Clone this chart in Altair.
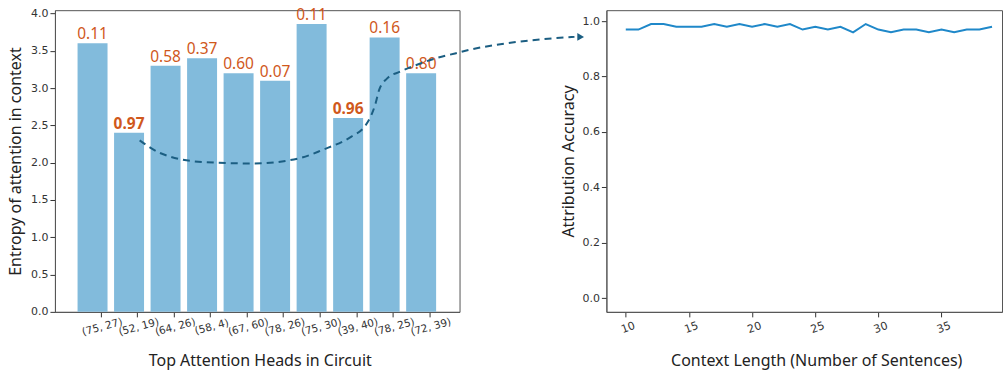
import json
import altair as alt
import pandas as pd

# ---------------- data ----------------
heads = ["(75, 27)", "(52, 19)", "(64, 26)", "(58, 4)", "(67, 60)",
         "(78, 26)", "(75, 30)", "(39, 40)", "(78, 25)", "(72, 39)"]
entropy = [3.60, 2.40, 3.30, 3.40, 3.20, 3.10, 3.86, 2.60, 3.68, 3.20]
head_scores = ["0.11", "0.97", "0.58", "0.37", "0.60",
               "0.07", "0.11", "0.96", "0.16", "0.80"]
highlighted = ["(52, 19)", "(39, 40)"]

context_len = list(range(10, 40))
accuracy = [0.97, 0.97, 0.99, 0.99, 0.98, 0.98, 0.98, 0.99, 0.98, 0.99,
            0.98, 0.99, 0.98, 0.99, 0.97, 0.98, 0.97, 0.98, 0.96, 0.99,
            0.97, 0.96, 0.97, 0.97, 0.96, 0.97, 0.96, 0.97, 0.97, 0.98]

# annotation curve (in left-panel data units: bar index, entropy)
arrow_x = [1.29, 1.85, 3.0, 4.41, 5.67, 6.29, 7.09, 7.445, 7.62, 7.755, 7.845,
           8.07, 8.42, 8.87, 9.4, 9.93, 10.38, 11.0, 12.33, 13.2]
arrow_y = [2.30, 2.13, 2.01, 1.99, 2.06, 2.17, 2.35, 2.48, 2.62, 2.80, 2.97,
           3.13, 3.22, 3.31, 3.40, 3.465, 3.52, 3.576, 3.656, 3.687]
arrow_tip = [13.37, 3.687]

TICK_SHIFT = 0.22

bars = pd.DataFrame({
    "i": list(range(len(heads))),
    "head": heads,
    "entropy": entropy,
    "score": head_scores,
    "bold": [h in highlighted for h in heads],
})
curve = pd.DataFrame({"i": arrow_x, "entropy": arrow_y, "o": list(range(len(arrow_x)))})
tip = pd.DataFrame({"i": [arrow_tip[0]], "entropy": [arrow_tip[1]]})
acc = pd.DataFrame({"n": context_len, "acc": accuracy})

AX_FONT = "DejaVu Sans"
TITLE_FONT = "Noto Sans"

xscale_l = alt.Scale(domain=[-0.893, 9.915], nice=False, zero=False)
yscale_l = alt.Scale(domain=[0, 4.045], nice=False)

label_expr = "%s[round(datum.value - %s)]" % (json.dumps(heads), TICK_SHIFT)

x_axis_l = alt.Axis(
    values=[k + TICK_SHIFT for k in range(len(heads))],
    labelExpr=label_expr, labelAngle=345, labelAlign="center", labelBaseline="top",
    labelPadding=5, labelFontSize=10.5, labelOverlap=False,
    title="Top Attention Heads in Circuit", titleX=205, titleY=54,
    titleBaseline="alphabetic", titleAnchor="middle", grid=False,
)
y_axis_l = alt.Axis(
    values=[0, 0.5, 1.0, 1.5, 2.0, 2.5, 3.0, 3.5, 4.0], format=".1f",
    labelOverlap=False,
    title="Entropy of attention in context", titleX=-39, titleY=151,
    titleBaseline="middle", titleAngle=270, grid=False,
)
X_L = alt.X("i:Q", scale=xscale_l, axis=x_axis_l)
Y_L = alt.Y("entropy:Q", scale=yscale_l, axis=y_axis_l)

base_l = alt.Chart(bars)
bar_layer = base_l.mark_bar(color="#82bbdc", size=30).encode(x=X_L, y=Y_L)
txt_norm = base_l.transform_filter("!datum.bold").mark_text(
    color="#d0581c", font=TITLE_FONT, fontSize=15.5, baseline="alphabetic", dy=-4
).encode(x=X_L, y=Y_L, text="score:N")
txt_bold = base_l.transform_filter("datum.bold").mark_text(
    color="#d0581c", font=TITLE_FONT, fontSize=15.5, fontWeight="bold",
    baseline="alphabetic", dy=-4
).encode(x=X_L, y=Y_L, text="score:N")

curve_layer = alt.Chart(curve).mark_line(
    color="#1b5e82", strokeWidth=2, strokeDash=[7, 5], interpolate="monotone", clip=False
).encode(x=X_L, y=Y_L, order="o:Q")
tip_layer = alt.Chart(tip).mark_point(
    shape="triangle-right", filled=True, color="#1b5e82", size=60, opacity=1, clip=False
).encode(x=X_L, y=Y_L)

left = alt.layer(bar_layer, txt_norm, txt_bold, curve_layer, tip_layer).properties(
    width=405, height=302
)

x_axis_r = alt.Axis(
    values=[10, 15, 20, 25, 30, 35], labelAngle=340, labelAlign="center",
    labelBaseline="top", labelPadding=5, labelOverlap=False,
    title="Context Length (Number of Sentences)", titleX=210, titleY=54,
    titleBaseline="alphabetic", titleAnchor="middle", grid=False,
)
y_axis_r = alt.Axis(
    values=[0, 0.2, 0.4, 0.6, 0.8, 1.0], format=".1f", labelOverlap=False,
    title="Attribution Accuracy", titleX=-38, titleY=151,
    titleBaseline="middle", titleAngle=270, grid=False,
)
right = alt.Chart(acc).mark_line(color="#1f88c9", strokeWidth=2).encode(
    x=alt.X("n:Q", scale=alt.Scale(domain=[8.465, 39.79], nice=False, zero=False), axis=x_axis_r),
    y=alt.Y("acc:Q", scale=alt.Scale(domain=[-0.05, 1.04], nice=False), axis=y_axis_r),
).properties(width=396, height=302)

chart = alt.hconcat(left, right, spacing=147, bounds="flush").properties(
    padding={"left": 7, "top": 6, "right": 0, "bottom": 0}
).configure_view(
    stroke="#555555", strokeWidth=1
).configure_axis(
    labelFont=AX_FONT, labelFontSize=11, labelColor="#333333",
    titleFont=TITLE_FONT, titleFontSize=16, titleFontWeight="normal", titleColor="#222222",
    domainColor="#555555", tickColor="#333333", tickSize=5,
)

chart.save("out.html", embed_options={"renderer": "svg", "actions": False})
